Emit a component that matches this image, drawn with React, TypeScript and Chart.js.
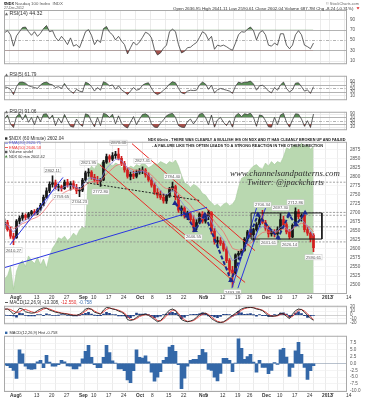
import React, { useEffect, useRef } from "react";
import { Chart, registerables } from "chart.js";

Chart.register(...registerables);

const SANS = "'Liberation Sans', Arial, sans-serif";
const SERIF = "'Liberation Serif', 'DejaVu Serif', serif";
Chart.defaults.font.family = SANS;
Chart.defaults.font.size = 5;

// ---------------- data ----------------
const tickPositions = [1.5, 4.5, 9.5, 14.5, 19.5, 24.5, 28.5, 33.5, 38.5, 43.5, 48.5, 53.5, 58.5, 64.5, 66.5, 71.5, 76.5, 80.5, 85.5, 90.5, 95.5, 100.5, 105.5, 108.5, 113.5];
const tickLabels = ["Aug", "6", "13", "20", "27", "Sep", "10", "17", "24", "Oct", "8", "15", "22", "Nov", "5", "12", "19", "26", "Dec", "10", "17", "24", "2013", "7", "14"];
const monthLabels = ["Aug", "Sep", "Oct", "Nov", "Dec", "2013"];

const openP = [2665,2672,2652,2634,2630,2676,2684,2692,2686,2696,2702,2698,2708,2720,2742,2760,2778,2782,2770,2772,2766,2784,2776,2780,2770,2760,2762,2790,2810,2812,2798,2790,2786,2790,2840,2855,2848,2858,2862,2850,2836,2818,2800,2806,2800,2812,2816,2818,2804,2790,2776,2756,2748,2742,2732,2746,2766,2772,2742,2706,2712,2690,2698,2680,2660,2672,2696,2676,2688,2700,2648,2618,2622,2614,2598,2566,2540,2532,2582,2586,2594,2626,2646,2638,2652,2666,2680,2672,2656,2640,2646,2640,2652,2680,2666,2646,2632,2664,2702,2688,2692,2652,2642,2637];
const highP = [2682,2678,2660,2642,2680,2690,2698,2696,2700,2706,2708,2712,2725,2748,2768,2785,2802,2790,2778,2776,2790,2792,2786,2788,2778,2770,2795,2815,2822,2816,2806,2800,2795,2845,2862,2860,2866,2870,2878,2856,2842,2824,2812,2815,2818,2822,2827,2822,2810,2796,2782,2766,2760,2752,2750,2770,2784,2776,2748,2718,2716,2704,2702,2690,2680,2700,2702,2694,2706,2702,2656,2632,2630,2620,2604,2572,2550,2585,2592,2598,2630,2650,2652,2656,2672,2690,2706,2678,2662,2652,2652,2660,2697,2690,2672,2652,2668,2713,2708,2696,2694,2660,2646,2641];
const lowP = [2655,2648,2628,2610,2628,2668,2678,2680,2682,2690,2692,2694,2704,2718,2738,2755,2770,2765,2760,2759,2764,2770,2762,2766,2752,2744,2758,2786,2800,2792,2784,2778,2772,2788,2836,2840,2844,2850,2846,2830,2812,2795,2790,2794,2796,2806,2808,2798,2786,2770,2750,2740,2736,2726,2725,2742,2760,2735,2700,2690,2684,2680,2672,2646,2652,2668,2670,2670,2680,2640,2612,2606,2608,2592,2560,2530,2493,2530,2570,2580,2592,2620,2632,2620,2648,2660,2668,2650,2631,2634,2632,2636,2650,2660,2640,2626,2630,2662,2682,2676,2646,2636,2618,2591];
const closeP = [2672,2652,2634,2628,2676,2684,2692,2686,2696,2702,2698,2708,2720,2742,2760,2778,2782,2770,2772,2766,2784,2776,2780,2770,2760,2762,2790,2810,2812,2798,2790,2786,2790,2840,2855,2848,2858,2862,2850,2836,2818,2800,2806,2800,2812,2816,2818,2804,2790,2776,2756,2748,2742,2732,2746,2766,2772,2742,2706,2712,2690,2698,2680,2660,2672,2696,2676,2688,2700,2648,2618,2622,2614,2598,2566,2540,2532,2582,2586,2594,2626,2646,2638,2652,2666,2680,2672,2656,2640,2646,2640,2652,2680,2666,2646,2632,2664,2702,2688,2692,2652,2642,2626,2602];
const ema20 = [2670,2664,2654,2645,2655,2665,2674,2678,2684,2690,2693,2698,2705,2717,2731,2747,2759,2763,2766,2766,2772,2773,2775,2773,2769,2767,2775,2787,2795,2796,2794,2791,2791,2807,2823,2831,2840,2847,2848,2844,2835,2823,2817,2811,2811,2813,2815,2811,2804,2795,2782,2771,2761,2751,2749,2755,2761,2755,2739,2730,2717,2711,2701,2687,2682,2687,2683,2685,2690,2676,2657,2645,2635,2623,2604,2583,2566,2571,2576,2582,2597,2613,2621,2631,2643,2655,2661,2659,2653,2651,2647,2649,2659,2661,2656,2648,2653,2669,2675,2681,2671,2661,2649,2634];
const ema50 = [2670,2667,2661,2655,2659,2663,2669,2672,2676,2681,2684,2688,2694,2703,2713,2725,2735,2741,2747,2750,2756,2760,2764,2765,2764,2764,2768,2776,2782,2785,2786,2786,2787,2796,2807,2814,2822,2829,2833,2834,2831,2825,2822,2818,2817,2817,2817,2815,2810,2804,2795,2787,2779,2770,2766,2766,2767,2763,2752,2745,2735,2729,2720,2709,2702,2701,2697,2695,2696,2687,2675,2665,2656,2646,2631,2615,2600,2597,2595,2595,2600,2609,2614,2621,2629,2638,2644,2646,2645,2645,2644,2646,2652,2654,2653,2649,2652,2661,2666,2670,2667,2663,2656,2646];
const volumeArea = [10,12,18,3,15,20,22,18,25,22,20,24,19,23,17,25,30,33,37,36,38,35,37,40,38,42,44,43,80,84,82,86,85,88,87,86,84,86,85,83,84,82,84,83,85,84,86,85,83,84,86,85,87,86,85,87,86,88,84,78,73,72,70,72,71,69,66,65,62,60,58,59,57,59,60,58,59,62,70,76,77,79,82,84,85,83,82,86,84,87,85,87,86,90,96,95,97,98,96,99,97,98,95,97];

const rsi14 = [64,68,60,38,58,66,74,75,66,59,66,57,63,72,78,66,68,55,48,57,50,41,54,38,41,35,50,66,70,59,41,50,45,72,76,65,60,50,57,48,41,23,35,46,40,46,55,65,62,54,31,21,25,34,40,66,71,66,41,25,28,35,36,41,45,55,66,62,50,57,32,40,38,40,37,33,30,44,60,66,65,71,75,68,50,64,68,60,40,38,44,40,62,62,40,33,40,60,68,60,40,37,33,44];
const rsi5 = [59,55,45,15,60,85,86,80,65,60,55,50,70,82,86,75,70,55,60,50,78,50,35,22,45,35,30,85,78,60,35,55,40,88,80,65,70,45,65,42,30,15,35,55,40,45,68,78,82,50,25,15,25,40,55,75,88,82,50,25,20,35,40,38,40,70,86,75,45,68,25,42,50,45,40,35,22,62,86,80,85,86,92,75,40,65,68,55,35,25,55,40,70,86,50,30,42,80,82,60,35,42,22,60];
const rsi2 = [60,85,30,8,75,92,55,88,40,70,25,80,45,90,92,60,85,20,65,35,88,50,15,10,60,30,15,92,85,45,12,70,20,95,88,70,90,30,80,35,15,5,40,75,25,60,88,92,80,30,10,8,35,55,80,90,95,70,20,10,8,45,60,30,55,90,95,70,25,85,10,55,70,40,20,50,10,80,95,75,92,88,96,70,15,85,80,50,12,10,70,25,85,95,40,10,55,92,90,60,15,50,8,91];

const macdLine = [15,15,10,2,7,17,15,8,6,4.5,5.6,11,15,18,17,12.5,10,7,5.6,4,3,2,0,-1,-1,2,7,15,17,14,7,4.5,2,12.5,19,18,15,13.6,10,7,2,-11.5,-14,-11.5,-6,-1,1,2,-1,-6,-11.5,-17,-14,-6,4.5,12.5,15,11,-1,-11.5,-15,-17,-15,-12,-6,2,4.5,4.5,-1,-9,-14,-18,-19,-17,-12,-6,-1,4.5,10,15,18,19,19,18,15,13.6,11,4.5,-2.5,-3.5,-2.5,-1,4.5,3,-3.5,-9,2,11,15,13.6,7,-1,-8,-13.3];
const macdSignal = [14,15,14,10,6,8,13,14,11,8,6,7,11,15,17,15,12,9,7,5,4,3,1.5,0,-0.5,0.5,4,10,15,15,10,6,3,8,14,17,16,14,12,9,5,-4,-11,-12,-9,-4,-1,1,0.5,-3,-8,-14,-15,-10,-2,6,12,12,4,-6,-12,-16,-16,-14,-9,-3,2,4,1.5,-5,-11,-16,-18,-18,-14,-9,-3,1,6,12,16,18,19,18.5,16.5,14.5,12,7.5,1.5,-2.5,-3,-2,1.5,3.5,0,-6,-4,5,12,14,10,3,-4,-12.55];
const macdHist = [-0.5,-0.8,-1.5,-2.5,-5.5,5.0,3.5,-1.0,-2.0,-2.2,-2.0,0.6,1.2,-1.5,3.0,0.5,-1.0,-1.0,-0.4,1.2,0.6,-0.9,-1.0,-2.0,-2.0,-1.0,1.7,4.5,6.7,2.3,-0.4,-1.5,-1.5,2.3,6.7,4.0,1.0,0.1,-2.0,-2.0,-2.6,-6.0,-7.0,-2.6,5.0,2.3,2.0,2.8,0.6,-3.2,-6.5,-5.0,-3.0,1.2,2.3,6.0,6.7,4.5,-0.4,-9.2,-5.4,-1.0,1.2,1.5,1.5,3.0,5.2,4.0,-2.2,-2.5,-5.0,-6.4,-3.6,1.9,1.9,1.2,-3.0,0.2,9.0,5.6,1.5,2.5,3.4,0.5,-3.2,1.2,-1.4,-1.4,-3.7,-2.5,0.3,-0.3,5.0,5.6,2.4,-4.7,-1.4,4.6,7.8,3.4,-1.4,-5.8,-2.6,-0.76];

const priceTicks = [2500, 2525, 2550, 2575, 2600, 2625, 2650, 2675, 2700, 2725, 2750, 2775, 2800, 2825, 2850, 2875];
const rsiTicks = [10, 30, 50, 70, 90];
const macdTicks = [20, 10, 0, -10, -20];
const histTicks = [7.5, 5, 2.5, 0, -2.5, -5, -7.5, -10];

// drawn annotations, in (trading-day index, price)
const hLevels = [2784, 2700, 2692, 2660, 2618];
const blueLong = [[-1.5, 2542.8], [67.5, 2714.3]];
const blueSteep = [[1.83, 2609.8], [19.5, 2797.3]];
const blueUp1 = [[75.8, 2489.3], [84, 2712]];
const blueUp2 = [[77.8, 2489.3], [87, 2712]];
const redA = [[42.5, 2891.1], [83.5, 2593.7]];
const redB = [[31.8, 2832.1], [76.8, 2505.3]];
const redC = [[51.8, 2692.8], [80.2, 2505.3]];
const blackNeck = [[26.2, 2783.9], [65.2, 2733]];
const ihsPath = [[56.8, 2725.3], [60.8, 2690.5], [63.5, 2650.4], [66.8, 2693.2], [75.5, 2511.4], [84.5, 2693.2], [91.2, 2629], [94.8, 2693.2], [97.2, 2666.4], [100.2, 2698.5]];
const boxOutline = [[82.2, 2698.5], [105.8, 2698.5], [105.8, 2626], [82.2, 2626], [82.2, 2698.5]];

const labelIdx = [38, 16, 28, 46, 19, 25, 32, 56, 3, 63, 76, 86, 88, 92, 95, 97, 103];
const labelVal = [2878.38, 2802.11, 2821.95, 2827.41, 2759.65, 2744.23, 2772.8, 2784.4, 2610.27, 2646.55, 2493.38, 2706.34, 2631.61, 2697.3, 2626.14, 2712.86, 2590.61];
const labelAbove = [true, true, true, true, false, false, false, true, false, false, false, true, false, true, false, true, false];

// ---------------- helpers ----------------
const X_MIN = -0.17;
const X_MAX = 114.17;

const series = (arr: number[]) => arr.map((y, i) => ({ x: i, y }));
const seg = (arr: number[][]) => arr.map(([x, y]) => ({ x, y }));

function fitText(ctx: any, text: string, x: number, y: number, width: number, opt: any = {}) {
  const fam = opt.family || SANS;
  const pre = `${opt.italic ? "italic " : ""}${opt.weight || "normal"} `;
  ctx.font = `${pre}20px ${fam}`;
  const m = ctx.measureText(text).width || 1;
  const size = (20 * width) / m;
  ctx.font = `${pre}${size}px ${fam}`;
  ctx.fillStyle = opt.color || "#222";
  ctx.textAlign = "left";
  ctx.textBaseline = "middle";
  ctx.fillText(text, x, y);
  return size;
}

function tri(ctx: any, x: number, y: number, s: number, color: string) {
  ctx.beginPath();
  ctx.moveTo(x, y - s);
  ctx.lineTo(x + s, y + s * 0.8);
  ctx.lineTo(x - s, y + s * 0.8);
  ctx.closePath();
  ctx.fillStyle = color;
  ctx.fill();
}

function frame(chart: any) {
  const { ctx, chartArea: a } = chart;
  ctx.save();
  ctx.strokeStyle = "#a9a9a9";
  ctx.lineWidth = 1;
  ctx.strokeRect(a.left + 0.5, a.top + 0.5, a.right - a.left - 1, a.bottom - a.top - 1);
  ctx.restore();
}

function xAxis(show: boolean, h: number) {
  return {
    type: "linear",
    position: "bottom",
    min: X_MIN,
    max: X_MAX,
    offset: false,
    afterBuildTicks: (s: any) => {
      s.ticks = tickPositions.map((v) => ({ value: v }));
    },
    afterFit: (s: any) => {
      s.height = h;
    },
    grid: { color: "#e3e3e3", lineWidth: 0.7, drawTicks: false },
    border: { display: false },
    ticks: {
      display: show,
      autoSkip: false,
      maxRotation: 0,
      minRotation: 0,
      align: "start",
      padding: 1,
      labelOffset: 1,
      color: "#333",
      font: (c: any) => ({ size: 4.8, weight: monthLabels.includes(tickLabels[c.index]) ? "bold" : "normal" }),
      callback: (_v: any, i: number) => tickLabels[i],
    },
  };
}

function yAxis(min: number, max: number, ticks: number[], fmt: (v: number) => string, grid: any = { display: false }) {
  return {
    position: "right",
    min,
    max,
    afterBuildTicks: (s: any) => {
      s.ticks = ticks.map((v) => ({ value: v }));
    },
    afterFit: (s: any) => {
      s.width = 30;
    },
    grid: { drawTicks: false, lineWidth: 0.7, ...grid },
    border: { display: false },
    ticks: { autoSkip: false, padding: 3, color: "#555", font: { size: 4.6 }, callback: (v: any) => fmt(Number(v)) },
  };
}

function baseOptions(padTop: number) {
  return {
    animation: false,
    responsive: false,
    maintainAspectRatio: false,
    events: [],
    layout: { padding: { left: 4, right: 0, top: padTop, bottom: 0 } },
    plugins: { legend: { display: false }, tooltip: { enabled: false } },
  };
}

// ---------------- panels ----------------
function rsiConfig(values: number[], min: number, max: number, padTop: number, xH: number, legText: string, legY: number, legW: number, extra?: (ctx: any) => void) {
  return {
    type: "line",
    data: {
      datasets: [
        { data: series(values), borderColor: "#3c3c3c", borderWidth: 0.8, pointRadius: 0, fill: { target: { value: 70 }, above: "#5b8f57", below: "rgba(0,0,0,0)" }, order: 1 },
        { data: series(values), borderColor: "rgba(0,0,0,0)", borderWidth: 0, pointRadius: 0, fill: { target: { value: 30 }, above: "rgba(0,0,0,0)", below: "#a4514c" }, order: 2 },
      ],
    },
    options: { ...baseOptions(padTop), scales: { x: xAxis(false, xH), y: yAxis(min, max, rsiTicks, (v) => String(v)) } },
    plugins: [
      {
        id: "rsiDeco",
        beforeDatasetsDraw(chart: any) {
          const { ctx, chartArea: a, scales } = chart;
          const lv: any[] = [[90, "#e6e6e6", []], [70, "#a0a0a0", []], [50, "#a0a0a0", [3, 1.5, 1, 1.5]], [30, "#a0a0a0", []], [10, "#e6e6e6", []]];
          ctx.save();
          ctx.lineWidth = 0.8;
          for (const [v, c, d] of lv) {
            const yy = Math.round(scales.y.getPixelForValue(v)) + 0.5;
            ctx.strokeStyle = c;
            ctx.setLineDash(d);
            ctx.beginPath();
            ctx.moveTo(a.left, yy);
            ctx.lineTo(a.right, yy);
            ctx.stroke();
          }
          ctx.restore();
        },
        afterDraw(chart: any) {
          frame(chart);
          const ctx = chart.ctx;
          ctx.save();
          tri(ctx, 6.5, legY, 1.6, "#6a6a6a");
          fitText(ctx, legText, 9.5, legY, legW, { color: "#333" });
          if (extra) extra(ctx);
          ctx.restore();
        },
      },
    ],
  };
}

function header(ctx: any) {
  fitText(ctx, "$NDX", 4, 3.5, 10, { weight: "bold", color: "#111" });
  fitText(ctx, "Nasdaq 100 Index  INDX", 15, 3.5, 48, { color: "#555" });
  fitText(ctx, "27-Dec-2012", 4, 8.5, 20, { color: "#555" });
  fitText(ctx, "\u00A9 StockCharts.com", 326, 3.5, 33, { color: "#666" });
  fitText(ctx, "Open 2636.95 High 2641.11 Low 2590.61 Close 2602.04 Volume 687.7M Chg -8.24 (-0.31%)", 173, 8.5, 181, { color: "#333" });
  ctx.save();
  ctx.beginPath();
  ctx.moveTo(356.5, 7.3);
  ctx.lineTo(359.5, 7.3);
  ctx.lineTo(358, 9.6);
  ctx.closePath();
  ctx.fillStyle = "#d22";
  ctx.fill();
  ctx.restore();
}

function mainConfig() {
  const barColors = closeP.map((c, i) => (c >= openP[i] ? "#161616" : "#d21f1f"));
  const line = (data: number[][], color: string, width: number, order: number, dash: number[] = []) => ({
    type: "line",
    data: seg(data),
    borderColor: color,
    borderWidth: width,
    borderDash: dash,
    pointRadius: 0,
    fill: false,
    order,
  });
  const datasets: any[] = [
    {
      type: "line",
      data: seg(ihsPath),
      borderColor: "#1b2a8c",
      borderWidth: 2,
      borderDash: [4, 2],
      pointStyle: "triangle",
      pointRadius: 3.3,
      pointBackgroundColor: "#1b2a8c",
      pointBorderWidth: 0,
      fill: false,
      order: 0,
    },
    line(boxOutline, "#151515", 1, 1),
    line(blueLong, "#2b36e0", 1, 2),
    line(blueSteep, "#2b36e0", 1, 2),
    line(blueUp1, "#2b36e0", 1, 2),
    line(blueUp2, "#2b36e0", 1, 2),
    line(redA, "#ea2a26", 1, 2),
    line(redB, "#ea2a26", 1, 2),
    line(redC, "#ea2a26", 1, 2),
    line(blackNeck, "#222", 1, 2, [2, 1.5]),
    { type: "line", data: series(ema20), borderColor: "#8585e2", borderWidth: 0.8, pointRadius: 0, fill: false, order: 4 },
    { type: "line", data: series(ema50), borderColor: "#ee6d6d", borderWidth: 0.8, pointRadius: 0, fill: false, order: 4 },
    {
      type: "bar",
      data: highP.map((h, i) => ({ x: i, y: [lowP[i], h] })),
      backgroundColor: barColors,
      barThickness: 1,
      grouped: false,
      borderWidth: 0,
      order: 5,
    },
    {
      type: "bar",
      data: openP.map((o, i) => ({ x: i, y: [Math.min(o, closeP[i]), Math.max(o, closeP[i]) + (o === closeP[i] ? 0.8 : 0)] })),
      backgroundColor: barColors,
      barThickness: 2,
      grouped: false,
      borderWidth: 0,
      order: 5,
    },
    ...hLevels.map((v) => line([[X_MIN, v], [X_MAX, v]], "#8a8a8a", 0.8, 8, [2, 1.5])),
    {
      type: "line",
      data: series(volumeArea),
      yAxisID: "yv",
      fill: "start",
      backgroundColor: "#b9d8b0",
      borderColor: "#a6cb9c",
      borderWidth: 0.6,
      pointRadius: 0,
      order: 100,
    },
  ];
  return {
    type: "line",
    data: { datasets },
    options: {
      ...baseOptions(0),
      scales: {
        x: xAxis(true, 6),
        y: yAxis(2473.2, 2896.4, priceTicks, (v) => String(v), { display: true, color: "#f1f1f1" }),
        yv: { display: false, min: 0, max: 100 },
      },
    },
    plugins: [
      {
        id: "mainDeco",
        afterDatasetsDraw(chart: any) {
          const { ctx, scales } = chart;
          ctx.save();
          ctx.font = `4.2px ${SANS}`;
          ctx.textAlign = "center";
          ctx.textBaseline = "middle";
          labelIdx.forEach((idx, k) => {
            const px = scales.x.getPixelForValue(idx);
            const py = scales.y.getPixelForValue(labelVal[k]) + (labelAbove[k] ? -5.5 : 5.5);
            const t = labelVal[k].toFixed(2);
            const w = ctx.measureText(t).width + 2;
            ctx.fillStyle = "#fff";
            ctx.fillRect(px - w / 2, py - 2.6, w, 5.2);
            ctx.strokeStyle = "#c4c4c4";
            ctx.lineWidth = 0.5;
            ctx.strokeRect(px - w / 2, py - 2.6, w, 5.2);
            ctx.fillStyle = "#555";
            ctx.fillText(t, px, py + 0.2);
          });
          ctx.restore();
        },
        afterDraw(chart: any) {
          frame(chart);
          const ctx = chart.ctx;
          ctx.save();
          // legend
          ctx.fillStyle = "#333";
          ctx.fillRect(5, 1.3, 2.4, 2.4);
          fitText(ctx, "$NDX (60 Minute) 2602.04", 9, 2.6, 55, { color: "#333" });
          ctx.fillStyle = "#6f6fe0";
          ctx.fillRect(5, 6.8, 3, 0.8);
          fitText(ctx, "EMA(20) 2620.71", 9, 7.2, 32, { color: "#5d5dd8" });
          ctx.fillStyle = "#e33";
          ctx.fillRect(5, 11.1, 3, 0.8);
          fitText(ctx, "EMA(50) 2646.58", 9, 11.5, 32, { color: "#e33" });
          ctx.fillStyle = "#555";
          ctx.fillRect(5, 14.8, 2.4, 2.4);
          fitText(ctx, "Volume undef", 9, 16, 24, { color: "#333" });
          tri(ctx, 6.2, 20.4, 1.5, "#4a8a44");
          fitText(ctx, "NDX 60 min 2602.42", 9, 20.5, 36, { color: "#333" });
          // annotation
          fitText(ctx, "NDX 60min - THERE WAS CLEARLY A BULLISH IHS ON NDX AND IT HAS CLEANLY BROKEN UP AND FAILED", 148, 4.3, 198, { weight: "bold", color: "#1a1a1a" });
          fitText(ctx, "- A FAILURE LIKE THIS OFTEN LEADS TO A STRONG REACTION IN THE OTHER DIRECTION", 152, 9.8, 172, { weight: "bold", color: "#1a1a1a" });
          // watermark
          fitText(ctx, "www.channelsandpatterns.com", 230, 38, 110, { family: SERIF, italic: true, color: "#2e2e2e" });
          fitText(ctx, "Twitter: @jpackcharts", 247, 46.3, 77, { family: SERIF, italic: true, color: "#2e2e2e" });
          ctx.restore();
        },
      },
    ],
  };
}

function macdConfig() {
  return {
    type: "line",
    data: {
      datasets: [
        { type: "line", data: series(macdLine), borderColor: "#222", borderWidth: 0.9, pointRadius: 0, fill: false, order: 1 },
        { type: "line", data: series(macdSignal), borderColor: "#e3302e", borderWidth: 0.9, pointRadius: 0, fill: false, order: 2 },
        { type: "bar", data: series(macdHist), backgroundColor: "#1d3f85", barThickness: 2, grouped: false, borderWidth: 0, order: 3 },
      ],
    },
    options: {
      ...baseOptions(0),
      scales: {
        x: xAxis(false, 1),
        y: yAxis(-23.2, 23.2, macdTicks, (v) => String(v), { display: true, color: (c: any) => (c.tick && c.tick.value === 0 ? "#bdbdbd" : "#efefef") }),
      },
    },
    plugins: [
      {
        id: "macdDeco",
        afterDraw(chart: any) {
          frame(chart);
          const ctx = chart.ctx;
          ctx.save();
          ctx.fillStyle = "#333";
          ctx.fillRect(5, 2.2, 3, 0.8);
          const s = fitText(ctx, "MACD(12,26,9) -13.308,", 9.5, 2.6, 50, { color: "#333" });
          ctx.font = `${s}px ${SANS}`;
          ctx.fillStyle = "#e3302e";
          ctx.fillText(" -12.550,", 59.5, 2.6);
          const w2 = ctx.measureText(" -12.550,").width;
          ctx.fillStyle = "#3c6fb0";
          ctx.fillText(" -0.758", 59.5 + w2, 2.6);
          ctx.restore();
        },
      },
    ],
  };
}

function histConfig() {
  return {
    type: "line",
    data: {
      datasets: [{ type: "bar", data: series(macdHist), backgroundColor: "#3468a8", barThickness: 3, grouped: false, borderWidth: 0, order: 1 }],
    },
    options: {
      ...baseOptions(0),
      scales: {
        x: xAxis(true, 8),
        y: yAxis(-10.43, 10.16, histTicks, (v) => v.toFixed(1), { display: true, color: (c: any) => (c.tick && c.tick.value === 0 ? "#9aa6b8" : "#efefef") }),
      },
    },
    plugins: [
      {
        id: "histDeco",
        afterDraw(chart: any) {
          frame(chart);
          const ctx = chart.ctx;
          ctx.save();
          ctx.fillStyle = "#3468a8";
          ctx.fillRect(5, 1.6, 2.4, 2.4);
          fitText(ctx, "MACD(12,26,9) Hist -0.758", 9.5, 2.8, 48, { color: "#333" });
          ctx.restore();
        },
      },
    ],
  };
}

const PANELS = [
  { top: 0, h: 70, make: () => rsiConfig(rsi14, 3, 108, 10, 1, "RSI(14) 44.32", 14, 33, header) },
  { top: 70, h: 36, make: () => rsiConfig(rsi5, -17, 122, 0, 0, "RSI(5) 61.79", 5, 27) },
  { top: 106, h: 30, make: () => rsiConfig(rsi2, -9, 105, 0, 0, "RSI(2) 91.06", 6, 27) },
  { top: 136, h: 164, make: mainConfig },
  { top: 300, h: 30, make: macdConfig },
  { top: 330, h: 70, make: histConfig },
];

export default function App() {
  const refs = useRef<(HTMLCanvasElement | null)[]>([]);
  useEffect(() => {
    const prev = document.body.style.margin;
    document.body.style.margin = "0";
    const charts = PANELS.map((p, k) => new Chart(refs.current[k] as HTMLCanvasElement, p.make() as any));
    return () => {
      charts.forEach((c) => c.destroy());
      document.body.style.margin = prev;
    };
  }, []);
  return (
    <div style={{ position: "relative", width: 377, height: 400, background: "#fff", overflow: "hidden" }}>
      {PANELS.map((p, k) => (
        <canvas
          key={k}
          ref={(el) => {
            refs.current[k] = el;
          }}
          width={377}
          height={p.h}
          style={{ position: "absolute", left: 0, top: p.top, width: 377, height: p.h }}
        />
      ))}
    </div>
  );
}
